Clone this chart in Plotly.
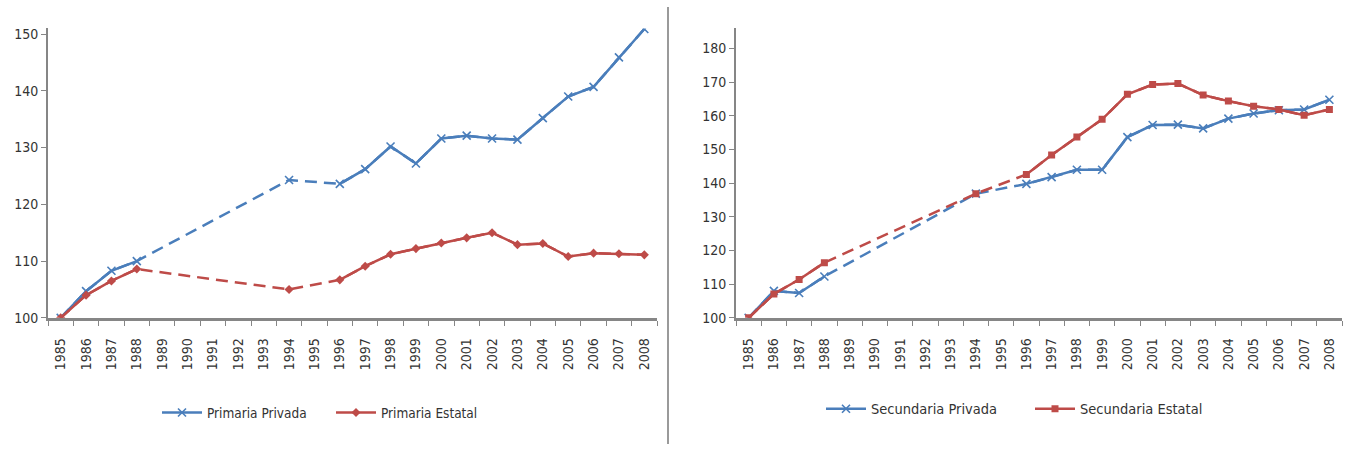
import plotly.graph_objects as go

years = [str(y) for y in range(1985, 2009)]

# None = no data for that year (shown as dashed connection)
primaria_privada = [100, 104.7, 108.3, 110.0, None, None, None, None, None, 124.3, None,
                    123.6, 126.2, 130.2, 127.2, 131.6, 132.1, 131.6, 131.4, 135.2, 139.0,
                    140.7, 145.9, 150.9]
primaria_estatal = [100, 104.0, 106.5, 108.6, None, None, None, None, None, 105.0, None,
                    106.7, 109.1, 111.2, 112.2, 113.2, 114.1, 115.0, 112.9, 113.1, 110.8,
                    111.4, 111.3, 111.1]
secundaria_privada = [100, 108.0, 107.4, 112.3, None, None, None, None, None, 136.9, None,
                      139.8, 141.8, 144.0, 144.0, 153.7, 157.3, 157.4, 156.3, 159.2, 160.7,
                      161.7, 161.9, 164.8]
secundaria_estatal = [100, 107.1, 111.4, 116.4, None, None, None, None, None, 136.9, None,
                      142.6, 148.4, 153.7, 159.0, 166.4, 169.3, 169.6, 166.2, 164.4, 162.9,
                      161.9, 160.2, 161.9]

BLUE = "#4A7EBB"
RED = "#BE4B48"
FONT = "DejaVu Sans Condensed, Liberation Sans Narrow, Arial"
W, H = 1349, 452

fig = go.Figure()


def add_series(vals, name, color, symbol, xa, ya, legend):
    # dashed line across the missing years
    fig.add_trace(go.Scatter(x=years, y=vals, mode="lines", connectgaps=True,
                             line=dict(color=color, width=2.5, dash="12px,7px"),
                             showlegend=False, hoverinfo="skip", xaxis=xa, yaxis=ya))
    if symbol.startswith("x"):
        marker = dict(symbol=symbol, size=8, color=color, line=dict(color=color, width=1.6))
    else:
        marker = dict(symbol=symbol, size=7, color=color)
    fig.add_trace(go.Scatter(x=years, y=vals, mode="lines+markers", connectgaps=False,
                             line=dict(color=color, width=2.5), marker=marker,
                             name=name, xaxis=xa, yaxis=ya, legend=legend))


add_series(primaria_privada, "Primaria Privada", BLUE, "x-thin", "x", "y", "legend")
add_series(primaria_estatal, "Primaria Estatal", RED, "diamond", "x", "y", "legend")
add_series(secundaria_privada, "Secundaria Privada", BLUE, "x-thin", "x2", "y2", "legend2")
add_series(secundaria_estatal, "Secundaria Estatal", RED, "square", "x2", "y2", "legend2")

ytop, ybot = 1 - 27 / H, 1 - 323 / H

common_x = dict(type="category", categoryorder="array", categoryarray=years,
                range=[-0.5, 23.5], tickangle=-90, ticks="outside", ticklen=5,
                tickcolor="#868686", tickson="boundaries", showline=True,
                linecolor="#868686", linewidth=2.5, showgrid=False, zeroline=False,
                ticklabelstandoff=12,
                tickfont=dict(family=FONT, size=14, color="#333333"))
common_y = dict(dtick=10, ticks="outside", ticklen=5, tickcolor="#868686",
                showline=True, linecolor="#868686", linewidth=2, showgrid=False,
                zeroline=False, tickfont=dict(family=FONT, size=14, color="#333333"))

fig.update_layout(
    width=W, height=H, margin=dict(l=0, r=0, t=0, b=0),
    paper_bgcolor="white", plot_bgcolor="white",
    font=dict(family=FONT, size=13, color="#333333"),
    xaxis=dict(domain=[48 / W, 657 / W], anchor="y", **common_x),
    yaxis=dict(domain=[ybot, ytop], anchor="x", range=[100, 151], **common_y),
    xaxis2=dict(domain=[736 / W, 1342 / W], anchor="y2", **common_x),
    yaxis2=dict(domain=[ybot, ytop], anchor="x2", range=[100, 186], **common_y),
    legend=dict(orientation="h", x=331 / W, xanchor="center", y=1 - 420 / H,
                yanchor="middle", font=dict(family=FONT, size=13.5, color="#333333"),
                itemwidth=40, entrywidth=119, tracegroupgap=0, bgcolor="rgba(0,0,0,0)"),
    legend2=dict(orientation="h", x=1030 / W, xanchor="center", y=1 - 416 / H,
                 yanchor="middle", font=dict(family=FONT, size=14.5, color="#333333"),
                 itemwidth=40, entrywidth=154, tracegroupgap=0, bgcolor="rgba(0,0,0,0)"),
    shapes=[dict(type="line", xref="paper", yref="paper", x0=668 / W, x1=668 / W,
                 y0=0, y1=1 - 5 / H, line=dict(color="#9a9a9a", width=2))],
)

fig.write_html("out.html")
